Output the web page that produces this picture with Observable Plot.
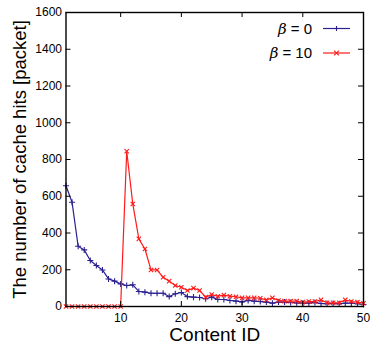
<!DOCTYPE html>
<html>
<head>
<meta charset="utf-8">
<script src="https://cdn.jsdelivr.net/npm/d3@7"></script>
<script src="https://cdn.jsdelivr.net/npm/@observablehq/plot@0.6"></script>
<style>
  body { margin: 0; background: #fff; }
  #chart { width: 371px; height: 344px; }
</style>
</head>
<body>
<div id="chart"></div>
<script>
const contentIds = [1,2,3,4,5,6,7,8,9,10,11,12,13,14,15,16,17,18,19,20,21,22,23,24,25,26,27,28,29,30,31,32,33,34,35,36,37,38,39,40,41,42,43,44,45,46,47,48,49,50];
const hitsBeta0 = [657,567,328,308,250,223,199,150,138,123,114,118,82,78,72,72,72,54,69,76,54,51,49,42,51,38,38,33,29,25,33,29,27,24,18,24,24,22,20,18,18,22,16,16,16,15,18,18,15,11];
const hitsBeta10 = [0,0,0,0,0,0,0,0,0,0,845,558,368,313,199,199,159,138,114,105,87,100,87,51,65,56,62,56,53,47,47,47,45,36,47,33,29,29,29,24,27,27,36,20,20,20,36,27,24,18];
const seriesNames = ["\u03b2 = 0", "\u03b2 = 10"];
const xTicks = [10,20,30,40,50];
const yTicks = [0,200,400,600,800,1000,1200,1400,1600];
const xLabel = "Content ID";
const yLabel = "The number of cache hits [packet]";

const blue = "#2a2090";
const red = "#ff1a1a";

const rows0 = contentIds.map((id,i) => ({id, v: hitsBeta0[i]}));
const rows10 = contentIds.map((id,i) => ({id, v: hitsBeta10[i]}));

const W = 371, H = 344;
const mL = 65.5, mR = 8, mT = 12, mB = 38;
const fw = W - mL - mR, fh = H - mT - mB;

const chart = Plot.plot({
  width: W, height: H,
  marginLeft: mL, marginRight: mR, marginTop: mT, marginBottom: mB,
  style: {fontFamily: "'Liberation Sans', Arial, sans-serif", fontSize: "12px", background: "#fff", color: "#000"},
  x: {domain: [1, 50]},
  y: {domain: [0, 1600]},
  marks: [
    Plot.line(rows0, {x: "id", y: "v", stroke: blue, strokeWidth: 1.2}),
    Plot.dot(rows0, {x: "id", y: "v", symbol: "plus", r: 2.1, stroke: blue, strokeWidth: 1.1}),
    Plot.line(rows10, {x: "id", y: "v", stroke: red, strokeWidth: 1.2}),
    Plot.dot(rows10, {x: "id", y: "v", symbol: "times", r: 2.1, stroke: red, strokeWidth: 1.1}),
    Plot.frame({stroke: "#000", strokeWidth: 1.4}),
    Plot.tickX(xTicks, {x: d => d, insetTop: fh - 5, stroke: "#000", strokeWidth: 1}),
    Plot.tickX(xTicks, {x: d => d, insetBottom: fh - 5, stroke: "#000", strokeWidth: 1}),
    Plot.tickY(yTicks, {y: d => d, insetRight: fw - 5, stroke: "#000", strokeWidth: 1}),
    Plot.tickY(yTicks, {y: d => d, insetLeft: fw - 5, stroke: "#000", strokeWidth: 1}),
    Plot.axisX({ticks: xTicks, tickSize: 0, tickPadding: 7, fontSize: 12, label: null, tickFormat: d => String(d)}),
    Plot.axisY({ticks: yTicks, tickSize: 0, tickPadding: 4, fontSize: 12, label: null, tickFormat: d => String(d)}),
    Plot.text([xLabel], {frameAnchor: "bottom", dy: 28, fontSize: 19, fill: "#000", lineAnchor: "middle", textAnchor: "middle"}),
    Plot.text([yLabel], {frameAnchor: "left", dx: -46, rotate: -90, fontSize: 18.5, fill: "#000", lineAnchor: "middle", textAnchor: "middle"})
  ]
});
document.getElementById("chart").appendChild(chart);

// legend (inside the frame, top-right), gnuplot style
const svg = d3.select(chart);
const lg = svg.append("g").attr("font-family", "'Liberation Sans', Arial, sans-serif");
const legendItems = [
  {name: seriesNames[0], color: blue, sym: "plus"},
  {name: seriesNames[1], color: red, sym: "times"}
];
legendItems.forEach((it, i) => {
  const cy = 28.5 + i * 24.5;
  const [beta, rest] = [it.name.slice(0,1), it.name.slice(1)];
  const t = lg.append("text").attr("x", 312).attr("y", cy + 5).attr("text-anchor", "end")
    .attr("font-size", 15).attr("fill", "#000");
  t.append("tspan").attr("font-style", "italic").attr("font-family", "'DejaVu Serif', serif").text(beta);
  t.append("tspan").attr("dx", 4).text(rest.trim());
  lg.append("line").attr("x1", 323).attr("x2", 350).attr("y1", cy).attr("y2", cy)
    .attr("stroke", it.color).attr("stroke-width", 1.2);
  const mx = 336.5, s = 2.4;
  if (it.sym === "plus") {
    lg.append("path").attr("d", `M${mx-s},${cy}H${mx+s}M${mx},${cy-s}V${cy+s}`).attr("stroke", it.color).attr("stroke-width", 1.1);
  } else {
    lg.append("path").attr("d", `M${mx-s},${cy-s}L${mx+s},${cy+s}M${mx-s},${cy+s}L${mx+s},${cy-s}`).attr("stroke", it.color).attr("stroke-width", 1.1);
  }
});
</script>
</body>
</html>
